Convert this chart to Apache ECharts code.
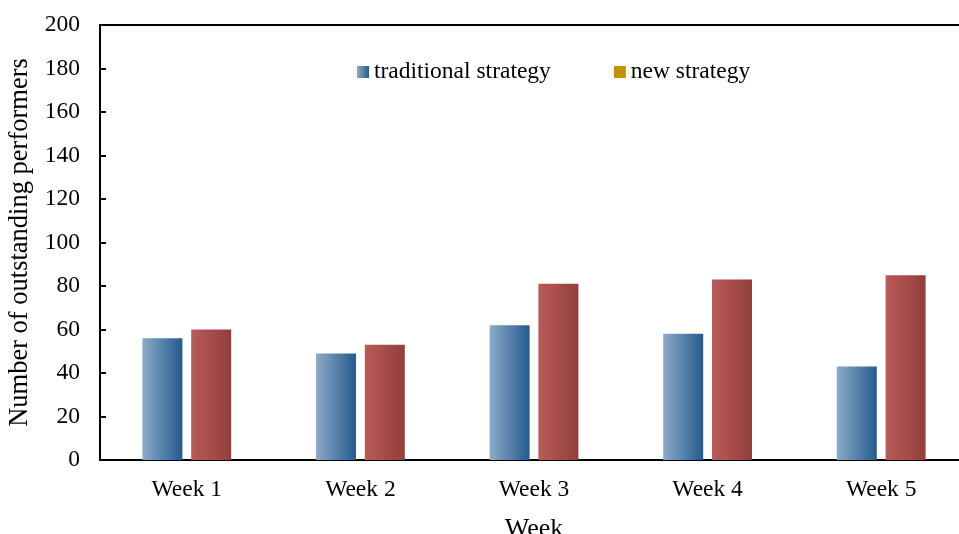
<!DOCTYPE html>
<html>
<head>
<meta charset="utf-8">
<script src="https://cdn.jsdelivr.net/npm/echarts@6/dist/echarts.min.js"></script>
<style>
  html, body { margin: 0; padding: 0; background: #fff; }
  #chart { width: 959px; height: 534px; }
</style>
</head>
<body>
<div id="chart"></div>
<script>
// Weekly counts of outstanding performers under two strategies
var weeks = ['Week 1', 'Week 2', 'Week 3', 'Week 4', 'Week 5'];
var traditionalValues = [56, 49, 62, 58, 43];
var newValues = [60, 53, 81, 83, 85];
var yTicks = { min: 0, max: 200, interval: 20 };

var FONT = '"Liberation Serif", "Times New Roman", serif';

function hGradient(from, to) {
  return new echarts.graphic.LinearGradient(0, 0, 1, 0, [
    { offset: 0, color: from },
    { offset: 1, color: to }
  ]);
}

var chart = echarts.init(document.getElementById('chart'), null, { renderer: 'canvas' });

chart.setOption({
  backgroundColor: '#ffffff',
  animation: false,
  textStyle: { fontFamily: FONT, color: '#000' },
  grid: {
    left: 100,
    top: 25,
    width: 868,
    height: 435,
    show: true,
    borderColor: '#000',
    borderWidth: 2,
    containLabel: false,
    outerBoundsMode: 'none'
  },
  legend: {
    left: 352,
    top: 55,
    icon: 'rect',
    itemWidth: 12,
    itemHeight: 12,
    itemGap: 63,
    textStyle: { fontFamily: FONT, fontSize: 23.5, color: '#000' },
    data: [
      { name: 'traditional strategy' },
      { name: 'new strategy', itemStyle: { color: '#C39200' } }
    ]
  },
  xAxis: {
    type: 'category',
    data: weeks,
    name: 'Week',
    nameLocation: 'middle',
    nameGap: 56,
    nameTextStyle: { fontFamily: FONT, fontSize: 26, color: '#000' },
    axisLine: { lineStyle: { color: '#000', width: 2 } },
    axisTick: { inside: true, length: 6, lineStyle: { color: '#000', width: 2 } },
    axisLabel: { fontFamily: FONT, fontSize: 23.5, color: '#000', margin: 18 },
    splitLine: { show: false }
  },
  yAxis: {
    type: 'value',
    min: yTicks.min,
    max: yTicks.max,
    interval: yTicks.interval,
    name: 'Number of outstanding performers',
    nameLocation: 'middle',
    nameGap: 65,
    nameRotate: 90,
    nameTextStyle: { fontFamily: FONT, fontSize: 26.5, color: '#000' },
    axisLine: { show: true, lineStyle: { color: '#000', width: 2 } },
    axisTick: { show: true, inside: true, length: 6, lineStyle: { color: '#000', width: 2 } },
    axisLabel: { fontFamily: FONT, fontSize: 23.5, color: '#000', margin: 20 },
    splitLine: { show: false }
  },
  series: [
    {
      name: 'traditional strategy',
      type: 'bar',
      data: traditionalValues,
      barWidth: 40,
      barGap: '22%',
      itemStyle: { color: hGradient('#8DAAC8', '#245A8C') }
    },
    {
      name: 'new strategy',
      type: 'bar',
      data: newValues,
      barWidth: 40,
      barGap: '22%',
      itemStyle: { color: hGradient('#BA5B58', '#913E3B') }
    }
  ]
});
</script>
</body>
</html>
